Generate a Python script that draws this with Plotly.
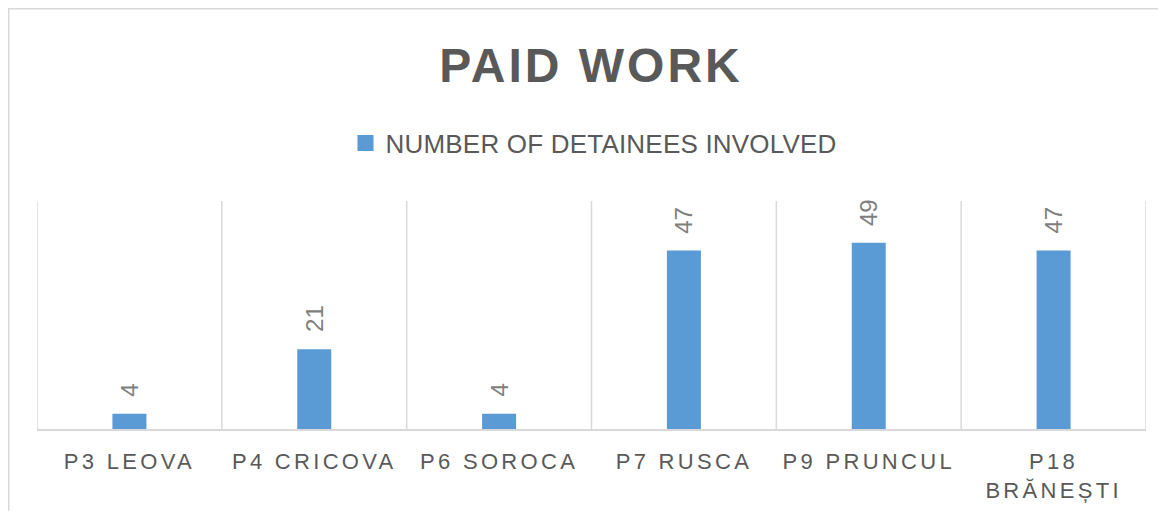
import plotly.graph_objects as go

categories = ["P3 LEOVA", "P4 CRICOVA", "P6 SOROCA", "P7 RUSCA", "P9 PRUNCUL", "P18<br>BRĂNEȘTI"]
values = [4, 21, 4, 47, 49, 47]
series_name = "NUMBER OF DETAINEES INVOLVED"
title_text = "PAID WORK"

BAR = "#5B9BD5"
DARK = "#595959"
LIGHT = "#7F7F7F"
GRID = "#D9D9D9"

W, H = 1150, 503  # page body has an 8px margin

def spaced(t, px):
    return f'<span style="letter-spacing:{px}px">{t}</span>'

fig = go.Figure()
fig.add_trace(go.Bar(
    x=list(range(len(categories))),
    y=values,
    name=series_name,
    marker=dict(color=BAR, line=dict(width=0)),
    showlegend=False,
))
# legend entry with a square marker
fig.add_trace(go.Scatter(
    x=[None], y=[None], mode="markers", name=spaced(series_name, 0.2),
    marker=dict(symbol="square", size=17, color=BAR),
    showlegend=True,
))

for i, v in enumerate(values):
    fig.add_annotation(
        x=i, y=v, text=str(v), textangle=-90, showarrow=False,
        xanchor="center", yanchor="bottom", yshift=15,
        font=dict(family="Liberation Sans, Arial", size=24, color=LIGHT),
    )

fig.update_layout(
    width=W, height=H,
    margin=dict(l=29, r=12, t=193, b=82, autoexpand=False),
    paper_bgcolor="white", plot_bgcolor="white",
    bargap=0.816,
    title=dict(
        text="<b>" + spaced(title_text, 3) + "</b>",
        x=583 / W, xanchor="center", y=1 - 57 / H, yanchor="middle",
        xref="container",
        font=dict(family="Liberation Sans, Arial", size=48, color=DARK),
    ),
    legend=dict(
        orientation="h", x=586 / W, xanchor="center", y=1 - 135 / H, yanchor="middle",
        xref="container", yref="container",
        font=dict(family="Liberation Sans, Arial", size=26, color=DARK),
        itemwidth=30,
        bgcolor="rgba(0,0,0,0)",
    ),
    xaxis=dict(
        tickmode="array",
        tickvals=list(range(len(categories))),
        ticktext=[spaced(c, 3.3) for c in categories],
        range=[-0.5, len(categories) - 0.5],
        showgrid=False, automargin=False,
        showline=True, linecolor=GRID, linewidth=1.5,
        ticks="", ticklen=0, ticklabelstandoff=12,
        tickfont=dict(family="Liberation Sans, Arial", size=22, color=DARK),
        zeroline=False,
    ),
    yaxis=dict(
        range=[0, 60], showgrid=False, showticklabels=False, automargin=False,
        zeroline=False, showline=False, ticks="",
    ),
)

# vertical gridlines at category boundaries
for b in range(len(categories) + 1):
    fig.add_shape(type="line", xref="x", yref="paper",
                  x0=b - 0.5, x1=b - 0.5, y0=0, y1=1,
                  line=dict(color=GRID, width=1.5), layer="below")

# chart frame
fig.add_shape(type="rect", xref="paper", yref="paper",
              x0=-28.3 / 1109, x1=1.05, y0=-0.5, y1=1 + 192.3 / 228,
              line=dict(color=GRID, width=1.5), fillcolor="rgba(0,0,0,0)", layer="below")

fig.write_html("out.html")
